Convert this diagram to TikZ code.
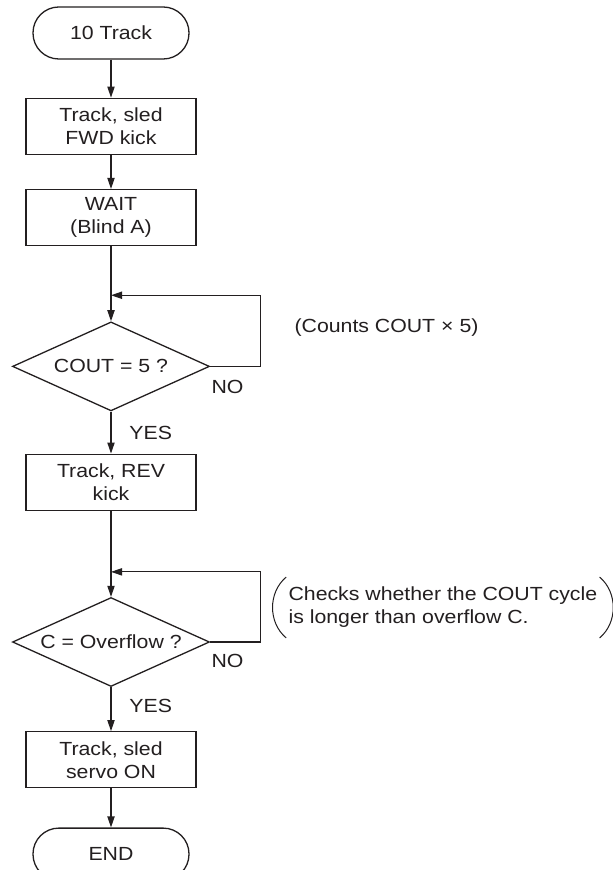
\documentclass[tikz,border=0pt]{standalone}
\usepackage{fontspec}
\setmainfont{Liberation Sans}[FakeStretch=1.12]
\usepackage{tikz}
\usepackage{xcolor}
\usetikzlibrary{arrows.meta,positioning,calc,shapes.geometric}
\definecolor{Ink}{HTML}{231F20}
\definecolor{Paper}{HTML}{FFFFFF}
\tikzset{
  every node/.style={font=\fontsize{9.5}{11.5}\selectfont,text=Ink},
  term/.style={draw=Ink,line width=0.65pt,rounded corners=12.9pt,minimum width=78pt,minimum height=26pt,align=center,inner sep=0pt},
  box/.style={draw=Ink,line width=0.65pt,minimum width=85pt,minimum height=28pt,align=center,inner sep=0pt},
  decide/.style={draw=Ink,line width=0.65pt,diamond,shape aspect=2.2,minimum width=98.5pt,minimum height=44.5pt,align=center,inner sep=0pt},
  lbl/.style={inner sep=0pt},
  note/.style={inner sep=0pt,align=left},
  arr/.style={-{Triangle[length=5.5pt,width=3.6pt]},draw=Ink,line width=0.6pt},
  paren/.style={draw=Ink,line width=0.5pt}
}
\begin{document}
\begin{tikzpicture}
  \fill[Paper] (0,0) rectangle (306.5pt,-435pt);
  \useasboundingbox (0,0) rectangle (306.5pt,-435pt);
  \node[term] (start) at (55.5pt,-16.5pt) {10 Track};
  \node[box,below=19pt of start] (fwd) {Track, sled\\FWD kick};
  \node[box,below=17pt of fwd] (wait) {WAIT\\(Blind A)};
  \node[decide,below=37.5pt of wait] (cout) {COUT = 5 ?};
  \node[box,below=21pt of cout] (rev) {Track, REV\\kick};
  \node[decide,below=43pt of rev] (ovf) {C = Overflow ?};
  \node[box,below=22pt of ovf] (servo) {Track, sled\\servo ON};
  \node[term,below=19.5pt of servo] (stop) {END};
  \coordinate (jcout) at ($(cout.north)+(0,13pt)$);
  \coordinate (jovf) at ($(ovf.north)+(0,12.5pt)$);
  \node[lbl,anchor=north west] (nocout) at ($(cout.east)+(0.5pt,-6.5pt)$) {NO};
  \node[lbl,anchor=north west] (yescout) at ($(cout.south)+(9pt,-7pt)$) {YES};
  \node[lbl,anchor=north west] (noovf) at ($(ovf.east)+(0.5pt,-6pt)$) {NO};
  \node[lbl,anchor=north west] (yesovf) at ($(ovf.south)+(9pt,-6pt)$) {YES};
  \node[note,anchor=west] (counts) at ($(cout.east)+(42pt,19.5pt)$) {(Counts COUT × 5)};
  \node[note,anchor=west,inner xsep=1pt,minimum height=30pt] (checks) at ($(ovf.east)+(38pt,17.25pt)$) {Checks whether the COUT cycle\\is longer than overflow C.};
  \draw[arr] (start) -- (fwd);
  \draw[arr] (fwd) -- (wait);
  \draw[arr] (wait) -- (cout);
  \draw[arr] (cout.east) -- ++(25pt,0) |- (jcout);
  \draw[arr] (cout) -- (rev);
  \draw[arr] (rev) -- (ovf);
  \draw[arr] (ovf.east) -- ++(25pt,0) |- (jovf);
  \draw[arr] (ovf) -- (servo);
  \draw[arr] (servo) -- (stop);
  \draw[paren] (checks.north west) to[bend right=50] (checks.south west);
  \draw[paren] (checks.north east) to[bend left=50] (checks.south east);
\end{tikzpicture}
\end{document}
